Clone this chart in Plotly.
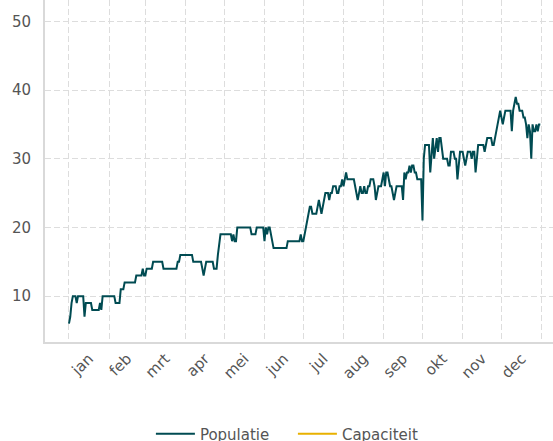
import pandas as pd
import plotly.graph_objects as go

year_start = "2023-01-01"
month_labels = ["jan", "feb", "mrt", "apr", "mei", "jun", "jul", "aug", "sep", "okt", "nov", "dec"]
jan = [6,7,9,10,10,10,9,10,10,10,10,10,7,9,9,9,9,9,8,8,8,8,8,8,9,8,10,10,10,10,10]
feb = [10,10,10,10,10,9,9,9,9,11,11,11,12,12,12,12,12,12,12,12,12,13,13,13,13,13,14,13]
mrt = [13,14,14,14,14,14,15,15,15,15,15,15,15,15,14,14,14,14,14,14,14,14,14,14,14,15,15,16,16,16,16]
apr = [16,16,16,16,16,16,15,15,15,15,15,15,15,14,13,14,15,15,15,15,15,15,14,14,14,16,18,19,19,19]
mei = [19,19,19,19,19,19,18,19,18,18,20,20,20,20,20,20,20,20,20,20,20,19,19,19,19,20,20,20,20,20,20]
jun = [18,20,19,20,20,19,18,17,17,17,17,17,17,17,17,17,17,17,18,18,18,18,18,18,18,18,18,18,19,18]
jul = [18,19,20,21,22,23,23,22,22,22,22,23,24,23,22,23,24,25,25,25,24,25,25,26,26,26,25,25,26,26,27]
aug = [26,27,28,27,27,27,27,27,27,26,25,24,25,26,25,25,26,25,25,26,26,27,27,27,26,24,25,26,26,26,27]
sep = [28,26,28,28,27,26,26,25,24,25,26,26,26,26,26,24,28,27,28,28,29,28,29,29,28,28,27,27,27,27]
okt = [21,30,32,32,32,32,28,31,33,30,32,33,31,33,33,31,30,30,30,30,29,29,31,31,31,30,30,27,29,31,31]
nov = [31,30,29,30,31,31,31,30,31,31,28,30,32,32,32,32,32,31,32,33,33,33,33,32,32,33,34,35,36,37]
dec = [36,35,36,37,37,37,37,37,34,37,38,39,38,38,37,37,37,36,36,35,33,35,34,30,35,34,34,35,34,35,35]

populatie = jan + feb + mrt + apr + mei + jun + jul + aug + sep + okt + nov + dec
dates = pd.date_range(year_start, periods=len(populatie), freq="D")

# Capaciteit has no visible values in the chart (legend entry only)
capaciteit_dates = [dates[0]]
capaciteit = [None]

month_starts = pd.date_range(year_start, periods=13, freq="MS")
month_mids = [s + (e - s) / 2 for s, e in zip(month_starts[:-1], month_starts[1:])]

fig = go.Figure()
fig.add_trace(go.Scatter(x=dates, y=populatie, mode="lines", name="Populatie",
                         line=dict(color="#004b52", width=2)))
fig.add_trace(go.Scatter(x=capaciteit_dates, y=capaciteit, mode="lines", name="Capaciteit",
                         line=dict(color="#e8b100", width=2)))

font = dict(family="DejaVu Sans", size=15, color="#555555")
common = dict(showline=True, linecolor="#d9d9d9", linewidth=2, zeroline=False,
              ticks="", tickfont=font, automargin=False)

fig.update_layout(
    width=553, height=441,
    margin=dict(l=45, r=0, t=0, b=99, autoexpand=False),
    paper_bgcolor="white", plot_bgcolor="white",
    font=font,
    showlegend=True,
    legend=dict(orientation="h", xref="paper", x=0.488, xanchor="center",
                yref="container", y=0.016, yanchor="middle",
                font=font, itemwidth=39, entrywidth=88),
    xaxis=dict(common, type="date", range=["2022-12-13 12:00", "2024-01-09 19:00"],
               tickmode="array", tickvals=month_mids, ticktext=month_labels,
               tickangle=-45, showgrid=False,
               minor=dict(tickmode="array", tickvals=list(month_starts), showgrid=True,
                          gridcolor="#dddddd", gridwidth=1, griddash="6px,3px", ticks="")),
    yaxis=dict(common, range=[3.33, 53.1], dtick=10, tick0=0, showgrid=True,
               gridcolor="#dddddd", gridwidth=1, griddash="6px,3px", ticklabelstandoff=9),
)

fig.write_html("out.html", config={"displayModeBar": False},
               post_script="document.body.style.margin='0';")
